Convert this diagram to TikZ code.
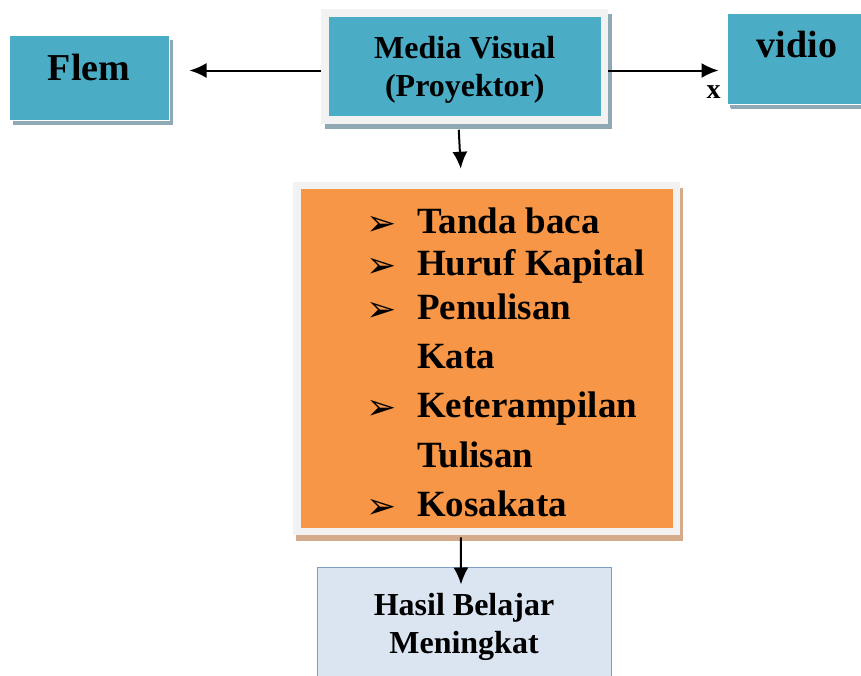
\documentclass[tikz,border=0pt]{standalone}
\usepackage{fontspec}
\setmainfont{Liberation Serif}
\newfontfamily\symfont{DejaVu Sans}
\usepackage{xcolor}
\usetikzlibrary{positioning, arrows.meta, shadows}

\definecolor{mediateal}{HTML}{4BACC6}
\definecolor{tealshade}{HTML}{8FA9B4}
\definecolor{topicorange}{HTML}{F79646}
\definecolor{orangeshade}{HTML}{D6AB8C}
\definecolor{framegray}{HTML}{F2F2F2}
\definecolor{resultfill}{HTML}{DBE5F1}
\definecolor{resultline}{HTML}{7F9CC4}

% bullet hanging left of the item text
\newcommand{\bul}{\llap{\raisebox{-2pt}{\symfont\fontsize{36}{36}\selectfont ➢}\hspace{21pt}}}

\begin{document}
\begin{tikzpicture}[x=1pt, y=-1pt, >={Latex[length=17pt,width=15pt]},
  media/.style={fill=mediateal,draw=white,line width=1pt,align=center,font=\bfseries\fontsize{38}{38}\selectfont,
    drop shadow={shadow xshift=4pt,shadow yshift=-5pt,fill=tealshade,opacity=1}},
  framed/.style={draw=framegray,line width=7.5pt,align=center},
  item/.style={anchor=base west,inner sep=0pt,font=\bfseries\fontsize{37}{37}\selectfont},
  conn/.style={->,line width=2pt}]
  \clip (0,0) rectangle (861,675);
  % top row
  \node[framed,fill=mediateal,minimum width=279.5pt,minimum height=107pt,font=\bfseries\fontsize{32}{38}\selectfont,
    text height=65pt,text depth=5pt,
    drop shadow={shadow xshift=4pt,shadow yshift=-5pt,fill=tealshade,draw=tealshade,line width=7.5pt,opacity=1}]
    (mv) at (464.75,66.5) {Media Visual\\(Proyektor)};
  \node[media,minimum width=160pt,minimum height=85pt,text height=27pt,text depth=22pt] (flem) at (89,77.5) {Flem};
  \node[media,minimum width=140pt,minimum height=91pt,text height=28pt,text depth=31pt,
    drop shadow={shadow xshift=3pt,shadow yshift=-4pt,fill=tealshade,opacity=1}] (vidio) at (797,58.5) {vidio};
  % topics
  \node[framed,fill=topicorange,minimum width=379.5pt,minimum height=346pt,
    drop shadow={shadow xshift=3pt,shadow yshift=-6pt,fill=orangeshade,draw=orangeshade,line width=7.5pt,opacity=1}]
    (topics) at (486.75,358.5) {};
  \foreach \yy/\txt [count=\i] in {233/\bul Tanda baca, 275/\bul Huruf Kapital, 319/\bul Penulisan, 368/Kata,
    417/\bul Keterampilan, 467/Tulisan, 516/\bul Kosakata}
    \node[item] (item\i) at (417,\yy) {\txt};
  % result
  \node[fill=resultfill,draw=resultline,line width=1pt,minimum width=294pt,minimum height=120pt,align=center,
    font=\bfseries\fontsize{32}{38}\selectfont] (hasil) at (464,627) {Hasil Belajar\\Meningkat};
  % connectors
  \draw[conn,shorten >=20pt] ([yshift=-4pt]mv.west) -- ([yshift=7pt]flem.east);
  \draw[conn,shorten >=8pt] ([yshift=-4pt]mv.east) -- ([yshift=-12pt]vidio.west)
    node[pos=0.89,below=14pt,inner sep=0pt,font=\bfseries\fontsize{28}{28}\selectfont] (xmark) {x};
  \draw[conn] ([xshift=-6pt,yshift=-6pt]mv.south) -- ([xshift=-26pt,yshift=13pt]topics.north);
  \draw[conn] ([xshift=-26pt,yshift=-2pt]topics.south) -- ([xshift=-3pt,yshift=-18pt]hasil.north);
\end{tikzpicture}
\end{document}
